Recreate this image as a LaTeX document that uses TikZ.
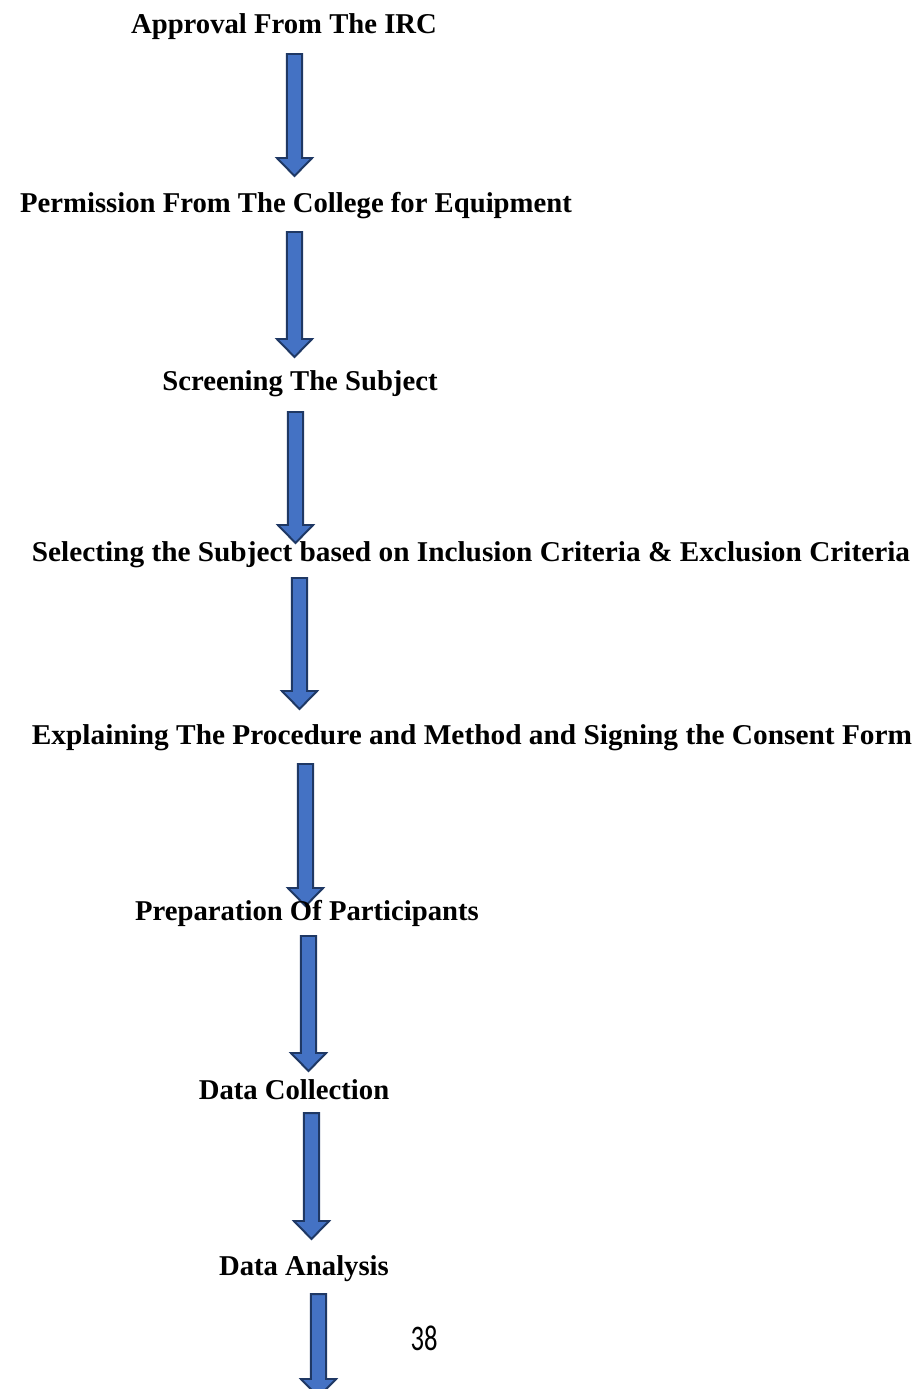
\documentclass[tikz,border=0pt]{standalone}
\usepackage{fontspec}
\setmainfont{Liberation Serif}
\newfontfamily\pagenumfont{Carlito}
\usetikzlibrary{calc}

\definecolor{arrowfill}{HTML}{4472C4}
\definecolor{arrowline}{HTML}{1F3864}

\tikzset{
  steplabel/.style={anchor=base, inner sep=0pt, font=\fontsize{20.4}{24}\selectfont\bfseries},
  blockarrow/.style={fill=arrowfill, draw=arrowline, line width=1.4pt, line join=miter},
}

% fat arrow pointing down, from top point #1 to tip #2
\newcommand{\blockdown}[2]{%
  \filldraw[blockarrow] let \p1=(#1), \p2=(#2) in
    (\x1-0.19cm,\y1) -- (\x1+0.19cm,\y1) -- (\x1+0.19cm,\y2+0.45cm) -- (\x1+0.44cm,\y2+0.45cm)
    -- (\x1,\y2) -- (\x1-0.44cm,\y2+0.45cm) -- (\x1-0.19cm,\y2+0.45cm) -- cycle;}

\begin{document}
\begin{tikzpicture}[x=0.025cm, y=-0.025cm]
    \clip (0,0) rectangle (923,1389);

    \coordinate (a1) at (294.5,54);   \coordinate (b1) at (294.5,176);
    \coordinate (a2) at (294.5,232);  \coordinate (b2) at (294.5,357);
    \coordinate (a3) at (295.5,412);  \coordinate (b3) at (295.5,543);
    \coordinate (a4) at (299.5,578);  \coordinate (b4) at (299.5,709);
    \coordinate (a5) at (305.5,764);  \coordinate (b5) at (305.5,906);
    \coordinate (a6) at (308.5,936);  \coordinate (b6) at (308.5,1071);
    \coordinate (a7) at (311.5,1113); \coordinate (b7) at (311.5,1239);
    \coordinate (a8) at (318.5,1294); \coordinate (b8) at (318.5,1397);

    \blockdown{a1}{b1}
    \blockdown{a2}{b2}
    \blockdown{a3}{b3}
    \blockdown{a4}{b4}
    \blockdown{a5}{b5}
    \blockdown{a6}{b6}
    \blockdown{a7}{b7}
    \blockdown{a8}{b8}

    \node[steplabel] (irc) at (284,33) {Approval From The IRC};
    \node[steplabel] (college) at (296,212) {Permission From The College for Equipment};
    \node[steplabel] (screen) at (300,390) {Screening The Subject};
    \node[steplabel] (select) at (471,561) {\resizebox{21.95cm}{\height}{Selecting the Subject based on Inclusion Criteria \& Exclusion Criteria}};
    \node[steplabel] (explain) at (472,744) {\resizebox{22cm}{\height}{Explaining The Procedure and Method and Signing the Consent Form}};
    \node[steplabel] (prep) at (307,920) {Preparation Of Participants};
    \node[steplabel] (collect) at (294,1099) {Data Collection};
    \node[steplabel] (analysis) at (304,1275) {Data Analysis};

    \node[anchor=base, inner sep=0pt, font=\pagenumfont\fontsize{25.6}{30}\selectfont] (pagenum) at (424,1350) {\resizebox{0.675cm}{\height}{38}};
\end{tikzpicture}
\end{document}
